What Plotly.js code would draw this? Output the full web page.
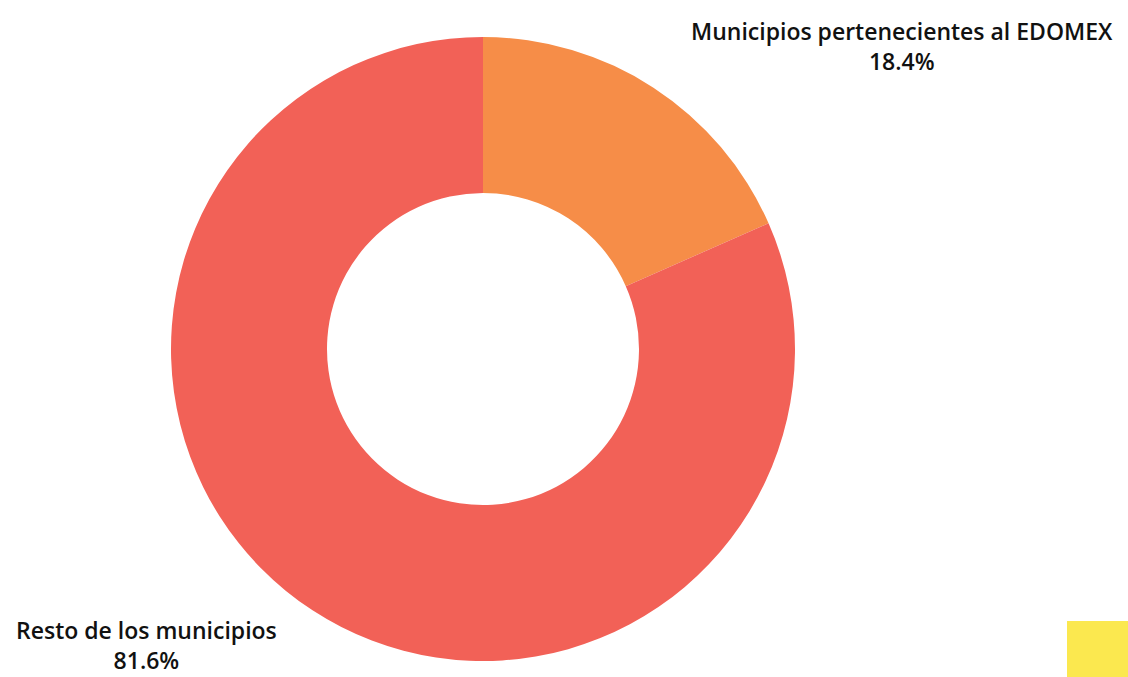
<!DOCTYPE html>
<html><head><meta charset="utf-8">
<script src="https://cdn.plot.ly/plotly-3.0.1.min.js"></script>
<style>html,body{margin:0;padding:0;background:#fff;}#chart{width:1128px;height:677px;}</style>
</head><body><div id="chart"></div>
<script>
var labels = ["Municipios pertenecientes al EDOMEX", "Resto de los municipios"];
var values = [18.4, 81.6];
var colors = ["#F68D48", "#F26157"];

var W = 1128, H = 677;
var labelPos = [{x: 902, y: 46}, {x: 146, y: 645}];
var fnt = {family: '"Open Sans", "Noto Sans", sans-serif', size: 23, color: '#111', weight: 600};
var ann = labels.map(function(l, i){
  var p = labelPos[i];
  return {text: l + '<br>' + values[i].toFixed(1) + '%', x: p.x / W, y: 1 - p.y / H, xref: 'paper', yref: 'paper', showarrow: false, xanchor: 'center', yanchor: 'middle', align: 'center', font: fnt};
});

var cx = 483, cy = 349, r = 312;
var trace = {
  type: 'pie', labels: labels, values: values, hole: 0.5, sort: false,
  direction: 'clockwise', rotation: 0, textinfo: 'none', hoverinfo: 'label+percent',
  marker: {colors: colors, line: {width: 0}},
  domain: {x: [(cx - r) / W, (cx + r) / W], y: [1 - (cy + r) / H, 1 - (cy - r) / H]}
};
var layout = {
  width: W, height: H, margin: {l: 0, r: 0, t: 0, b: 0},
  paper_bgcolor: '#fff', showlegend: false, annotations: ann,
  shapes: [{type: 'rect', xref: 'paper', yref: 'paper', x0: 1067 / W, x1: 1, y0: 0, y1: 1 - 621 / H, fillcolor: '#FBE84F', line: {width: 0}}]
};
Plotly.newPlot('chart', [trace], layout, {displayModeBar: false});
</script></body></html>
